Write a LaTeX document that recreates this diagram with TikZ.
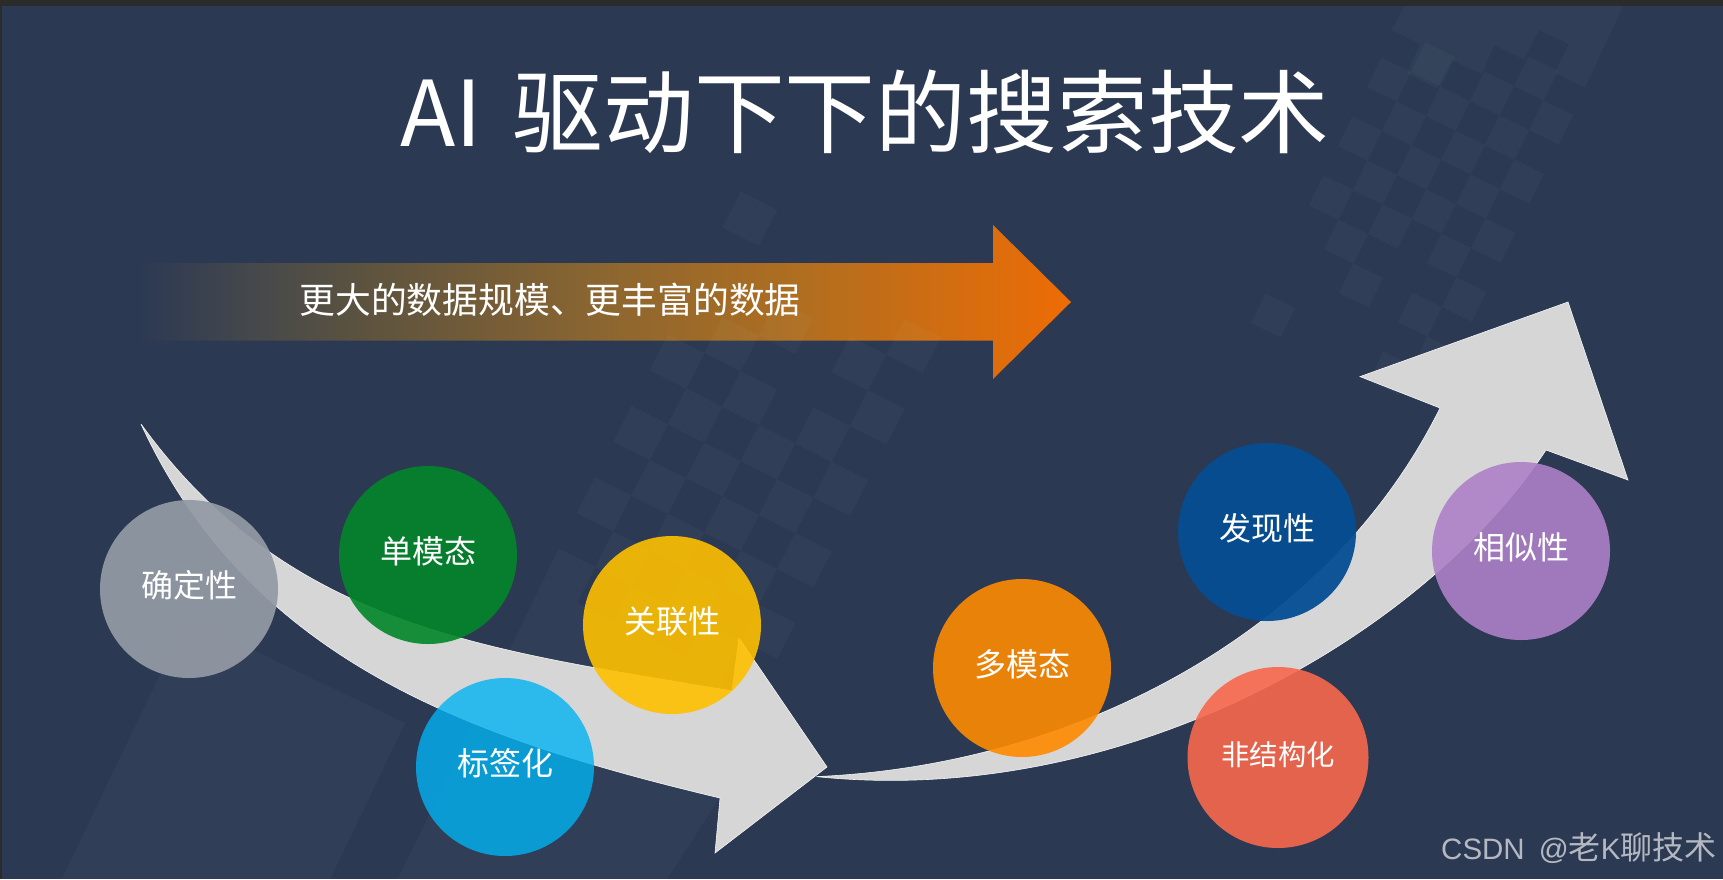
\documentclass[tikz,border=0pt]{standalone}
\usepackage{fontspec}
\usetikzlibrary{shapes}
\setmainfont{Liberation Sans}
\newfontfamily\cjk{Noto Sans CJK SC}
\newcommand{\markCjk}{\cjk\fontsize{16}{17}\selectfont}
\definecolor{slideBg}{HTML}{2C3953}
\definecolor{barDark}{HTML}{2B2B2B}
\definecolor{arrowGrey}{HTML}{D6D6D6}
\definecolor{waterGrey}{HTML}{B4B8C0}
\definecolor{tileTint}{RGB}{200,255,230}
\pgfdeclarehorizontalshading{barFade}{100bp}{
	rgb(0bp)=(0.173,0.224,0.325);
	rgb(25bp)=(0.173,0.224,0.325);
	rgb(31bp)=(0.27,0.282,0.298);
	rgb(36.5bp)=(0.353,0.322,0.251);
	rgb(50bp)=(0.549,0.4,0.188);
	rgb(60.5bp)=(0.69,0.431,0.125);
	rgb(75bp)=(0.933,0.424,0.02);
	rgb(100bp)=(0.933,0.424,0.02)}
\pgfmathsetmacro{\bubbleSize}{89}
\tikzset{
	tile/.style= {
		fill=tileTint, fill opacity=0.032
	},
	bigArrow/.style= {
		fill=arrowGrey, draw=white!92!gray, line width=0.3pt
	},
	bubble/.style= {
		shape=circle,
		minimum size=\bubbleSize pt,
		inner sep=0,
		fill opacity=0.9, text opacity=1,
		text=white,
		text height=14pt, text depth=5.2pt,
		font=\cjk\fontsize{16}{18}\selectfont
	}
}

\begin{document}
\begin{tikzpicture}[x=0.5pt,y=-0.5pt]
\useasboundingbox (0,0) rectangle (1723,879);
\fill[slideBg] (0,0) rectangle (1723,879);
\fill[barDark] (0,0) rectangle (1723,5.7);
\fill[barDark] (0,0) rectangle (1.5,879);

% wide arrow on top
\path[shading=barFade] (138,263) -- (993,263) -- (993,225) -- (1071,302) -- (993,379) -- (993,340.7) -- (138,340.7) -- cycle;

% big plates
\fill[tile] (187,618.5) -- (405,723) -- (330,879) -- (62,879) -- cycle;
\fill[tile] (558.7,548.8) -- (595.1,567.1) -- (576.9,602.8) -- (613.3,621.1) -- (631.5,585.4) -- (667.9,603.7) -- (649.7,639.4) -- (686.1,657.7) -- (704.3,622) -- (740.7,640.3) -- (722.5,676) -- (724,791) -- (667,879) -- (398,879) -- cycle;
\fill[tile] (1391.7,30) -- (1405,5.7) -- (1623.3,5.7) -- (1585,87.3) -- (1555,72.7) -- (1569,44) -- (1539,30) -- (1524,59.3) -- (1494,45) -- (1481.7,74) -- (1451.7,60) -- (1437.3,88.3) -- (1407.3,73.3) -- (1420,44) -- cycle;

% middle checker
\begin{scope}[shift={(613.3,441.7)},x={(18.2pt,-9.15pt)},y={(9.1pt,17.85pt)}]
	\foreach \i/\j in {0/0,0/2,1/1,1/3,2/2,2/0,3/1,1/-1,0/-2,4/0,3/-1,4/2,5/1,5/3,4/4,5/5,5/-1,2/-2,1/-3,4/-2,5/-3,2/4,0/6,3/-3}{%
		\fill[tile] (\i,\j) -- ++(0,1) -- ++(1,0) -- ++(0,-1) -- cycle;
	}
\end{scope}

% right checker
\begin{scope}[shift={(1251,323)},x={(14.75pt,-7.25pt)},y={(7.25pt,14.75pt)}]
	\foreach \i/\j in {0/0,2/2,4/2,5/3,4/4,5/5,1/3,2/4,3/5,4/6,5/7,0/4,1/5,2/6,3/7,4/8,5/9,0/6,1/7,2/8,3/9,4/10,0/8,1/9,4/0,5/1}{%
		\fill[tile] (\i,\j) -- ++(0,1) -- ++(1,0) -- ++(0,-1) -- cycle;
	}
\end{scope}

% grey arrows
\draw[bigArrow] (141,424) .. controls (290,630) and (491,650) .. (732,691) -- (739,638) -- (827,767) -- (715,853) -- (720,798) .. controls (468,738) and (250,660) .. (141,424) -- cycle;
\draw[bigArrow] (816.5,776.6) .. controls (1080,765) and (1330,630) .. (1440,408) -- (1360,376.6) -- (1568,302) -- (1628,480) -- (1546,450) .. controls (1420,640) and (1120,808) .. (816.5,776.6) -- cycle;

% circles
\node[bubble,fill opacity=0.93,fill={rgb,255:red,147;green,154;blue,165}] (bubbleExact) at (189,589) {确定性};
\node[bubble,fill={rgb,255:red,2;green,134;blue,41}] (bubbleSingle) at (428,555) {单模态};
\node[bubble,fill={rgb,255:red,255;green,192;blue,0}] (bubbleLinked) at (672,625) {关联性};
\node[bubble,fill opacity=0.8,fill={rgb,255:red,2;green,178;blue,242}] (bubbleTagged) at (505,767) {标签化};
\node[bubble,fill={rgb,255:red,254;green,138;blue,1}] (bubbleMulti) at (1022,668) {多模态};
\node[bubble,fill opacity=0.95,fill={rgb,255:red,4;green,78;blue,147}] (bubbleFound) at (1267,532) {发现性};
\node[bubble,fill={rgb,255:red,173;green,129;blue,200}] (bubbleSimilar) at (1521,551) {相似性};
\node[bubble,minimum size=90.5pt,text depth=6.5pt,fill={rgb,255:red,248;green,104;blue,77},font=\cjk\fontsize{14.2}{16}\selectfont] (bubbleRaw) at (1278,757.5) {非结构化};

% texts
\node[text=white,inner sep=0,anchor=west,font=\cjk\fontsize{45.4}{50}\selectfont] (titleText) at (400,112) {AI\hspace{5pt} 驱动下下的搜索技术};
\node[text=white,inner sep=0,font=\cjk\fontsize{17.9}{20}\selectfont] (barText) at (550,299.5) {更大的数据规模、更丰富的数据};
\node[text=waterGrey,inner sep=0,anchor=east,font=\fontsize{14.75}{17}\selectfont] (markText) at (1717,848) {CSDN\hspace{3pt} @{\markCjk 老}K{\markCjk 聊技术}};
\end{tikzpicture}
\end{document}
